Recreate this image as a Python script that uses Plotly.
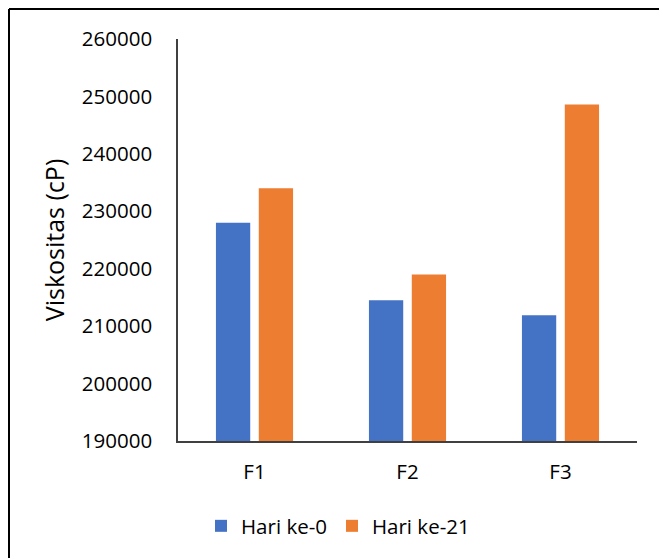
import plotly.graph_objects as go

categories = ["F1", "F2", "F3"]
hari_0 = [228000, 214500, 211900]
hari_21 = [234000, 219000, 248600]
series_names = ["Hari ke-0", "Hari ke-21"]
y_ticks = [190000, 200000, 210000, 220000, 230000, 240000, 250000, 260000]

W, H = 659, 558
ML, MR, MT = 178, 22, 39
PLOT_BOTTOM = 441
MB = H - PLOT_BOTTOM
pw, ph = W - ML - MR, PLOT_BOTTOM - MT

def px_x(p):
    return (p - ML) / pw

def px_y(p):
    return (PLOT_BOTTOM - p) / ph

FONT = "Open Sans"
fig = go.Figure()
fig.add_trace(go.Bar(x=categories, y=hari_0, name=series_names[0],
                     marker=dict(color="#4472C4", line=dict(width=0))))
fig.add_trace(go.Bar(x=categories, y=hari_21, name=series_names[1],
                     marker=dict(color="#ED7D31", line=dict(width=0))))

border = dict(color="#000000", width=2)
fig.update_layout(
    width=W, height=H,
    margin=dict(l=ML, r=MR, t=MT, b=MB, autoexpand=False),
    paper_bgcolor="white", plot_bgcolor="white",
    barmode="group", bargap=0.44, bargroupgap=0.2,
    font=dict(family=FONT, size=20, color="#000000"),
    showlegend=True,
    legend=dict(orientation="h", x=px_x(338), xanchor="center",
                y=px_y(506), yanchor="top",
                font=dict(family=FONT, size=20.5, color="#000000"),
                itemwidth=30, bgcolor="rgba(0,0,0,0)"),
    shapes=[
        dict(type="line", xref="paper", yref="paper",
             x0=px_x(9), x1=px_x(W), y0=px_y(9), y1=px_y(9),
             line=border, layer="below"),
        dict(type="line", xref="paper", yref="paper",
             x0=px_x(9), x1=px_x(9), y0=px_y(9), y1=px_y(H),
             line=border, layer="below"),
    ],
)
fig.update_xaxes(showline=True, linecolor="#404040", linewidth=1.5,
                 showgrid=False, ticks="", ticklabelstandoff=12,
                 tickfont=dict(family=FONT, size=20.5, color="#000000"))
fig.update_yaxes(range=[190000, 260000], tickvals=y_ticks,
                 ticktext=[str(v) for v in y_ticks],
                 showline=True, linecolor="#404040", linewidth=1.5,
                 showgrid=False, zeroline=False, ticks="", ticklabelstandoff=20,
                 tickfont=dict(family=FONT, size=20.5, color="#000000"),
                 title=dict(text="Viskositas (cP)", standoff=10,
                            font=dict(family=FONT, size=25, color="#000000")))

fig.write_html("out.html",
               config={"displayModeBar": False},
               post_script="document.documentElement.style.overflow='hidden';"
                           "document.body.style.margin='0';"
                           "document.body.style.overflow='hidden';")
